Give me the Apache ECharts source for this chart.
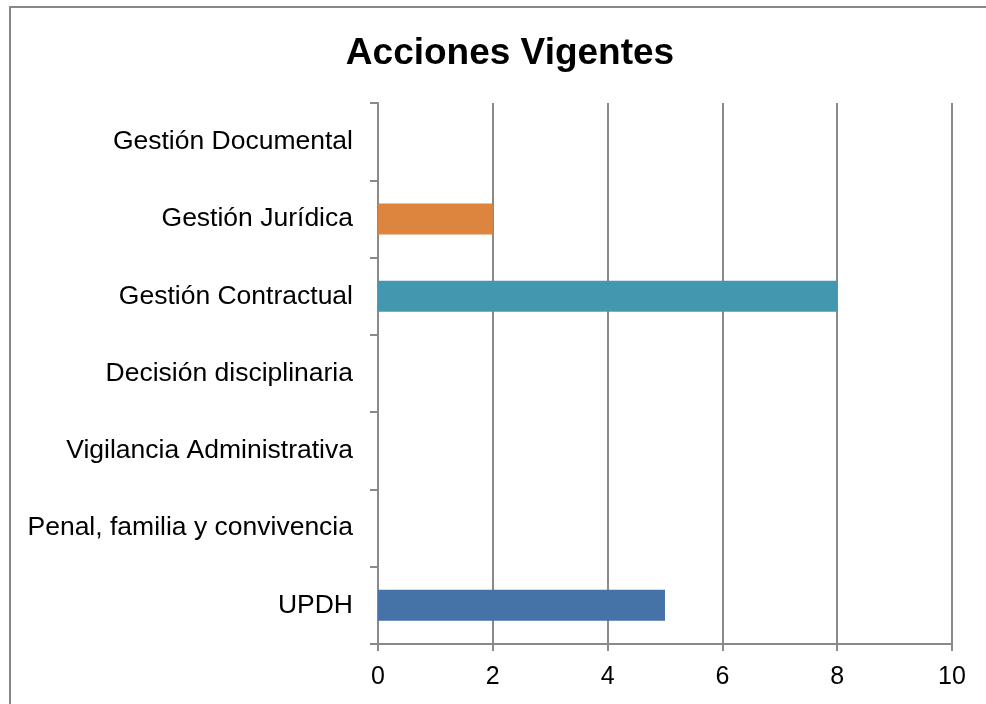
<!DOCTYPE html>
<html>
<head>
<meta charset="utf-8">
<script src="https://cdn.jsdelivr.net/npm/echarts@6.0.0/dist/echarts.min.js"></script>
<style>
  html, body { margin: 0; padding: 0; background: #fff; }
  #chart { width: 986px; height: 704px; }
</style>
</head>
<body>
<div id="chart"></div>
<script>
// top to bottom, as in the picture
const categories = [
  'Gestión Documental',
  'Gestión Jurídica',
  'Gestión Contractual',
  'Decisión disciplinaria',
  'Vigilancia Administrativa',
  'Penal, familia y convivencia',
  'UPDH'
];
const values = [0, 2, 8, 0, 0, 0, 5];
const barColors = ['#4572a7', '#dd843f', '#4398b0', '#4572a7', '#4572a7', '#4572a7', '#4572a7'];
const xTicks = [0, 2, 4, 6, 8, 10];

const font = 'Liberation Sans, Arial, sans-serif';
const lineGray = '#8a8a8a';

const chart = echarts.init(document.getElementById('chart'));
chart.setOption({
  animation: false,
  backgroundColor: '#fff',
  title: {
    text: 'Acciones Vigentes',
    left: 505,
    top: 30,
    textAlign: 'center',
    textStyle: { fontFamily: font, fontSize: 37, fontWeight: 'bold', color: '#000' }
  },
  graphic: [{
    type: 'rect',
    silent: true,
    shape: { x: 10, y: 7, width: 2000, height: 2000 },
    style: { fill: 'none', stroke: '#888', lineWidth: 2 }
  }],
  grid: { left: 378, right: 34, top: 103, bottom: 60 },
  xAxis: {
    type: 'value',
    min: xTicks[0],
    max: xTicks[xTicks.length - 1],
    interval: 2,
    axisLine: { show: true, lineStyle: { color: lineGray, width: 2 } },
    axisTick: { show: true, length: 7, lineStyle: { color: lineGray, width: 2 } },
    splitLine: { show: true, lineStyle: { color: lineGray, width: 2 } },
    axisLabel: { margin: 21, fontFamily: font, fontSize: 25, color: '#000' }
  },
  yAxis: {
    type: 'category',
    inverse: true,
    data: categories,
    axisLine: { show: true, lineStyle: { color: lineGray, width: 2 } },
    axisTick: { show: true, length: 8, lineStyle: { color: lineGray, width: 2 } },
    splitLine: { show: false },
    axisLabel: { margin: 25, fontFamily: font, fontSize: 26.5, color: '#000' }
  },
  series: [{
    type: 'bar',
    barWidth: 31,
    data: values.map((v, i) => ({ value: v, itemStyle: { color: barColors[i] } }))
  }]
});
</script>
</body>
</html>
